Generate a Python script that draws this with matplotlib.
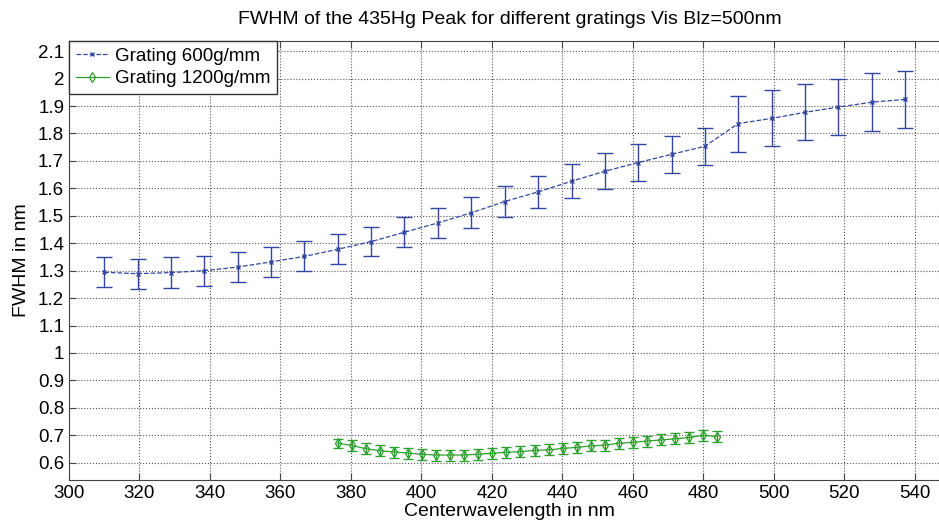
import matplotlib
matplotlib.use("Agg")
import matplotlib.pyplot as plt

plt.rcParams['font.family'] = ['Liberation Sans', 'DejaVu Sans']

# grating 600 g/mm
x600 = [310.0, 319.5, 329.0, 338.4, 347.9, 357.4, 366.8, 376.3, 385.8, 395.2,
        404.7, 414.2, 423.6, 433.1, 442.6, 452.0, 461.5, 471.0, 480.4, 489.9,
        499.4, 508.8, 518.3, 527.8, 537.2]
fwhm600 = [1.294, 1.289, 1.293, 1.300, 1.313, 1.332, 1.352, 1.378, 1.406, 1.440,
           1.474, 1.511, 1.552, 1.587, 1.626, 1.662, 1.694, 1.724, 1.753, 1.836,
           1.855, 1.877, 1.896, 1.914, 1.924]
err600 = [0.055, 0.055, 0.055, 0.055, 0.055, 0.055, 0.055, 0.055, 0.052, 0.055,
          0.055, 0.056, 0.058, 0.059, 0.062, 0.065, 0.066, 0.067, 0.068, 0.102,
          0.102, 0.102, 0.103, 0.105, 0.103]

# grating 1200 g/mm
x1200 = [376.2, 380.2, 384.2, 388.2, 392.2, 396.2, 400.1, 404.1, 408.1, 412.1,
         416.1, 420.1, 424.1, 428.1, 432.1, 436.1, 440.1, 444.1, 448.1, 452.0,
         456.0, 460.0, 464.0, 468.0, 472.0, 476.0, 480.0, 483.9]
fwhm1200 = [0.671, 0.663, 0.651, 0.644, 0.639, 0.635, 0.631, 0.628, 0.628, 0.628,
            0.631, 0.634, 0.638, 0.640, 0.645, 0.647, 0.652, 0.656, 0.661, 0.664,
            0.671, 0.674, 0.679, 0.683, 0.687, 0.692, 0.700, 0.695]
err1200 = [0.016, 0.019, 0.02, 0.02, 0.02, 0.02, 0.02, 0.02, 0.02, 0.02,
           0.02, 0.02, 0.02, 0.02, 0.02, 0.02, 0.02, 0.02, 0.02, 0.02,
           0.02, 0.02, 0.02, 0.02, 0.02, 0.02, 0.02, 0.02]

xticks = list(range(300, 541, 20))
yticks = [round(0.6 + 0.1 * i, 1) for i in range(16)]
ytick_labels = ['%g' % v for v in yticks]

blue = '#3346a0'
green = '#2ea02e'

fig = plt.figure(figsize=(9.39, 5.24), dpi=100)
ax = fig.add_axes([69 / 939, 1 - 480 / 524, (950 - 69) / 939, (480 - 41) / 524])

# error bars (no legend entry), then the lines themselves
ax.errorbar(x600, fwhm600, yerr=err600, color=blue, ls='none',
            capsize=6, elinewidth=1.0, capthick=1.0)
ax.errorbar(x1200, fwhm1200, yerr=err1200, color=green, ls='none',
            capsize=3.3, elinewidth=1.0, capthick=1.0)
ax.plot(x600, fwhm600, color=blue, ls='--', lw=0.9, marker='x', ms=3,
        mew=1.0, label='Grating 600g/mm')
ax.plot(x1200, fwhm1200, color=green, ls='-', lw=0.9, marker='d', ms=5,
        mfc='none', mew=0.9, label='Grating 1200g/mm')

ax.set_xlim(300, 550)
ax.set_ylim(0.537, 2.137)
ax.set_xticks(xticks)
ax.set_yticks(yticks)
ax.set_yticklabels(ytick_labels)
ax.tick_params(direction='in', top=True, right=True, labelsize=13.5, length=5,
               color='#444444')
ax.grid(True, ls=':', color='#555555', lw=0.8)
for s in ax.spines.values():
    s.set_color('#444444')

ax.set_title('FWHM of the 435Hg Peak for different gratings Vis Blz=500nm',
             fontsize=14, pad=12)
ax.set_xlabel('Centerwavelength in nm', fontsize=14, labelpad=1)
ax.set_ylabel('FWHM in nm', fontsize=14, labelpad=6)

leg = ax.legend(loc='upper left', fontsize=13.5, fancybox=False, framealpha=1,
                borderaxespad=0, handlelength=1.8, borderpad=0.35,
                labelspacing=0.3, handletextpad=0.3)
leg.get_frame().set_edgecolor('#333333')
leg.get_frame().set_linewidth(1.0)

fig.savefig('out.png', dpi=100)
